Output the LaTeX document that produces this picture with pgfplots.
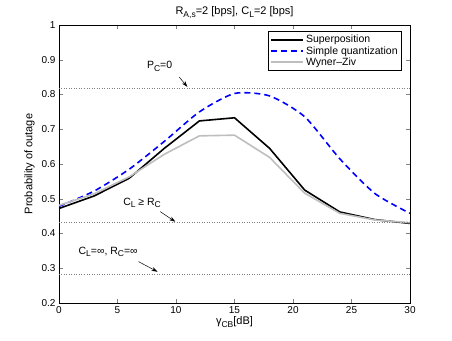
\documentclass[border=0pt]{standalone}
\usepackage{pgfplots}
\pgfplotsset{compat=1.18}
\usetikzlibrary{arrows.meta}
\usepackage{fontspec}
\setmainfont{Liberation Sans}
\definecolor{wzgray}{RGB}{190,190,190}
\newcommand{\sub}[1]{\raisebox{-0.5ex}{\fontsize{8.5}{9}\selectfont #1}}
\begin{document}
\fontsize{10}{12}\selectfont
\begin{tikzpicture}
\begin{axis}[
  name=ax,
  scale only axis, width=351pt, height=278pt,
  xmin=0, xmax=30, ymin=0.2, ymax=1,
  xtick={0,5,...,30}, ytick={0.2,0.3,...,1.0},
  yticklabel style={/pgf/number format/fixed},
  /pgf/number format/assume math mode=true,
  tick align=inside, tick pos=both,
  major tick length=4pt,
  tick label style={font=\fontsize{10}{12}\selectfont},
  label style={font=\fontsize{11}{13}\selectfont},
  title={R\sub{A,s}=2 [bps], C\sub{L}=2 [bps]},
  title style={font=\fontsize{11}{13}\selectfont, yshift=-3pt},
  xlabel={γ\sub{CB}[dB]},
  ylabel={Probability of outage},
  xlabel style={yshift=4pt},
  ylabel style={yshift=0pt},
  legend style={at={(0.977,0.978)}, anchor=north east, draw=black,
    line width=0.5pt, font=\fontsize{10.5}{12}\selectfont,
    row sep=-2pt, inner sep=2pt},
  legend cell align=left,
  legend image code/.code={\draw[#1] (0pt,0pt) -- (32pt,0pt);},
]
\addplot[black, line width=1.6pt] coordinates {
  (0,0.472) (3,0.508) (6,0.559) (9,0.645) (12,0.724) (15,0.733)
  (18,0.645) (21,0.525) (24,0.462) (27,0.440) (30,0.429)};
\addplot[blue, line width=1.6pt, dash pattern=on 6pt off 4pt, smooth, tension=0.4] coordinates {
  (0,0.478) (3,0.522) (6,0.585) (9,0.665) (12,0.750) (15,0.803)
  (18,0.796) (21,0.736) (24,0.615) (27,0.515) (30,0.458)};
\addplot[wzgray, line width=1.6pt] coordinates {
  (0,0.481) (3,0.514) (6,0.563) (9,0.628) (12,0.681) (15,0.683)
  (18,0.619) (21,0.516) (24,0.458) (27,0.439) (30,0.431)};
\legend{Superposition, Simple quantization, Wyner--Ziv}
\addplot[gray, dotted, line width=0.5pt, forget plot] coordinates {(0,0.817) (30,0.817)};
\addplot[gray, dotted, line width=0.5pt, forget plot] coordinates {(0,0.432) (30,0.432)};
\addplot[gray, dotted, line width=0.5pt, forget plot] coordinates {(0,0.284) (30,0.284)};
\node[font=\fontsize{10.5}{12}\selectfont] at (axis cs:8.6,0.882) {P\sub{C}=0};
\draw[-{Stealth[length=6pt,width=4pt]}, line width=0.5pt] (axis cs:10.28,0.850) -- (axis cs:10.97,0.822);
\node[font=\fontsize{10.5}{12}\selectfont] at (axis cs:7.1,0.488) {C\sub{L} ≥ R\sub{C}};
\draw[-{Stealth[length=6pt,width=4pt]}, line width=0.5pt] (axis cs:8.65,0.463) -- (axis cs:9.94,0.434);
\node[font=\fontsize{10.5}{12}\selectfont] at (axis cs:4.2,0.347) {C\sub{L}=∞, R\sub{C}=∞};
\draw[-{Stealth[length=6pt,width=4pt]}, line width=0.5pt] (axis cs:6.8,0.319) -- (axis cs:8.42,0.290);
\end{axis}
\pgfresetboundingbox
\path ([shift={(-59pt,-37pt)}]ax.south west) rectangle ++(452pt,340pt);
\end{tikzpicture}
\end{document}
